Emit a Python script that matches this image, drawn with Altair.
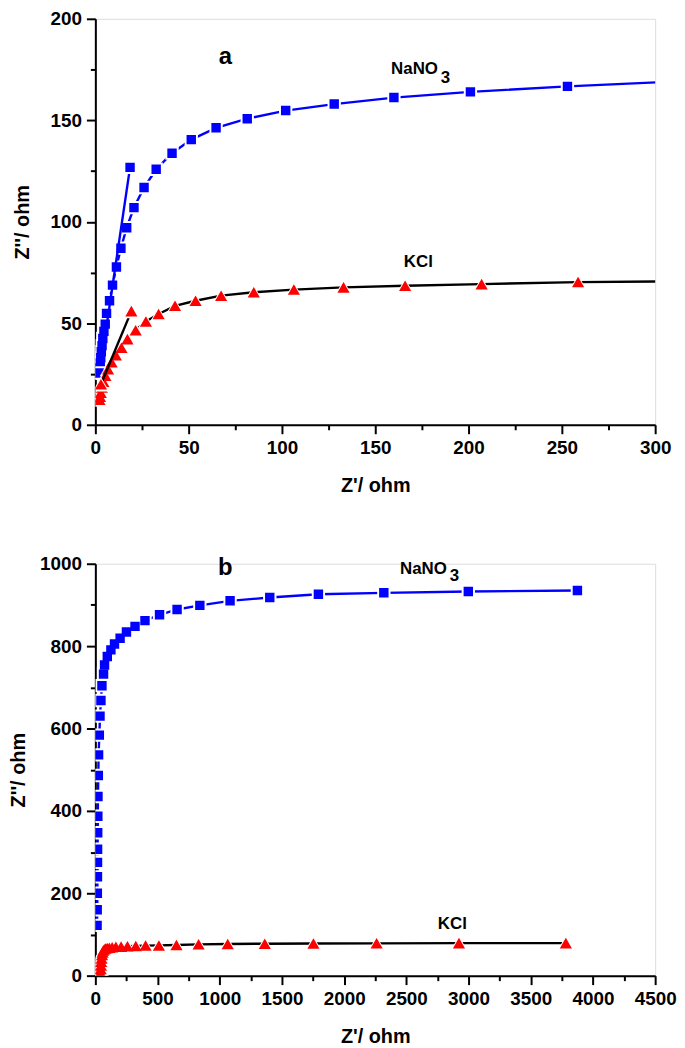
import altair as alt
import pandas as pd

# ---------------- Panel a ----------------
a_nano3_x = [315, 253, 201, 160, 128, 102, 81.4, 64.7, 51.4, 41.1, 32.6, 26.1, 20.7, 16.8, 13.7, 11.3,
             9.2, 7.6, 6.0, 5.3, 4.6, 4.0, 3.6, 3.2, 2.9, 2.6, 2.4, 2.3]
a_nano3_y = [169.3, 166.7, 164.0, 161.2, 158.0, 154.8, 150.8, 146.3, 140.5, 133.8, 125.9, 116.9, 107.0, 97.1,
             87.0, 77.7, 68.8, 61.1, 54.9, 49.6, 46.0, 42.5, 39.0, 36.0, 33.0, 30.5, 28.0, 25.5]
a_nano3_fit_x = [2.3, 18.6]
a_nano3_fit_y = [25.5, 126.8]

a_kcl_x = [325, 258.7, 207, 166, 133, 106.4, 84.9, 67.4, 53.7, 42.7, 33.9, 27.1, 21.6, 17.2, 14.0, 11.0,
           8.7, 6.8, 5.4, 4.3, 3.5, 2.9, 2.5, 2.2]
a_kcl_y = [70.8, 70.3, 69.3, 68.5, 67.7, 66.6, 65.3, 63.6, 61.1, 58.6, 54.6, 50.9, 46.6, 42.2, 38.0, 34.3,
           30.8, 27.4, 24.2, 21.2, 18.4, 15.8, 13.8, 12.4]
a_kcl_fit_x = [3.0, 19.3]
a_kcl_fit_y = [20.0, 56.0]

a_x_major = list(range(0, 301, 50))
a_x_minor = list(range(25, 300, 50))
a_y_major = list(range(0, 201, 50))
a_y_minor = list(range(25, 200, 50))

a_letter = ["a"]
a_letter_x = [69.7]
a_letter_y = [181.0]
a_lbl_text = ["NaNO", "3", "KCl"]
a_lbl_x = [158.5, 185.1, 165.3]
a_lbl_y = [175.5, 171.0, 80.0]

# ---------------- Panel b ----------------
b_nano3_x = [3875, 2998, 2319, 1793, 1402, 1083, 840, 657, 516, 399, 319, 250, 199, 154, 125, 96, 74, 66,
             53, 45, 37.5, 32, 26, 24, 21, 20, 19, 18, 17.5, 17, 16, 15, 14]
b_nano3_y = [935, 932.5, 929.4, 926, 918, 910, 899, 889, 876, 862, 848, 834.5, 819, 805, 791, 775, 754, 732,
             704, 668, 630, 584, 536, 486, 435, 387, 347, 307, 275, 240, 200, 160, 122]

b_kcl_x = [3782, 2923, 2261, 1753, 1362, 1064, 830, 652, 511, 404, 325, 258, 207, 165, 135, 112, 95, 82,
           72, 64, 58, 54, 50, 47, 45, 43, 41, 40]
b_kcl_y = [79, 79, 78.5, 78, 77.5, 77, 76, 74.5, 73.5, 73, 72, 71.5, 70.5, 70, 69, 68, 67, 66, 64, 61,
           56, 50, 42, 34, 25, 16, 8, 2]

b_x_major = list(range(0, 4501, 500))
b_x_minor = list(range(250, 4500, 500))
b_y_major = list(range(0, 1001, 200))
b_y_minor = list(range(100, 1000, 200))

b_letter = ["b"]
b_letter_x = [1045]
b_letter_y = [990]
b_lbl_text = ["NaNO", "3", "KCl"]
b_lbl_x = [2449, 2848, 2753]
b_lbl_y = [988, 969, 126.5]

FONT = "Liberation Sans"
BLUE = "#0000ff"
RED = "#ff0000"


def df(xs, ys):
    return pd.DataFrame({"x": xs, "y": ys, "i": list(range(len(xs)))})


def major_axis(title, values, orient, title_pad):
    return alt.Axis(
        title=title, values=values, format="d", orient=orient,
        tickSize=9, grid=False, domainColor="black", domainWidth=2, tickColor="black", tickWidth=2,
        labelFont=FONT, labelFontSize=19, labelFontWeight="bold", labelColor="black",
        titleFont=FONT, titleFontSize=20, titleFontWeight="bold", titleColor="black",
        labelPadding=5, titlePadding=title_pad, labelFlush=False, labelOverlap=False,
    )


def minor_axis(values, orient):
    return alt.Axis(
        title=None, values=values, orient=orient, labels=False, domain=False,
        tickSize=5, grid=False, tickColor="black", tickWidth=2,
    )


def panel(series, letter, lbls, xdom, ydom, xticks, yticks, xpad, ypad, w, h):
    xs_ = alt.Scale(domain=xdom, nice=False, zero=False)
    ys_ = alt.Scale(domain=ydom, nice=False, zero=False)
    X = alt.X("x:Q", scale=xs_, axis=major_axis("Z'/ ohm", xticks[0], "bottom", xpad))
    Y = alt.Y("y:Q", scale=ys_, axis=major_axis("Z''/ ohm", yticks[0], "left", ypad))
    layers = []
    for xs, ys, lcolor, shape, mcolor, msize, halo in series:
        base = alt.Chart(df(xs, ys))
        layers.append(base.mark_line(color=lcolor, strokeWidth=2.4, clip=True).encode(
            x=X, y=Y, order="i:Q"))
        layers.append(base.mark_point(shape=shape, filled=True, size=halo, fill="white", strokeWidth=0,
                                      opacity=1, clip=True).encode(x=X, y=Y))
        layers.append(base.mark_point(shape=shape, filled=True, size=msize, fill=mcolor, strokeWidth=0,
                                      opacity=1, clip=True).encode(x=X, y=Y))
    lt, lx, ly = letter
    layers.append(alt.Chart(pd.DataFrame({"x": lx, "y": ly, "t": lt})).mark_text(
        font=FONT, fontSize=24, fontWeight="bold", color="black", align="center", baseline="middle"
    ).encode(x=X, y=Y, text="t:N"))
    tt, tx, ty = lbls
    layers.append(alt.Chart(pd.DataFrame({"x": tx, "y": ty, "t": tt})).mark_text(
        font=FONT, fontSize=17, fontWeight="bold", color="black", align="left", baseline="middle"
    ).encode(x=X, y=Y, text="t:N"))
    main = alt.layer(*layers)
    first = series[0]
    minor = alt.Chart(df(first[0], first[1])).mark_point(opacity=0, clip=True).encode(
        x=alt.X("x:Q", scale=xs_, axis=minor_axis(xticks[1], "bottom")),
        y=alt.Y("y:Q", scale=ys_, axis=minor_axis(yticks[1], "left")),
    )
    return alt.layer(main, minor).resolve_axis(x="independent", y="independent").properties(
        width=w, height=h)


top = panel(
    [
        (a_nano3_x, a_nano3_y, BLUE, "square", BLUE, 90, 180),
        (a_nano3_fit_x, a_nano3_fit_y, BLUE, "square", BLUE, 90, 180),
        (a_kcl_x, a_kcl_y, "black", "triangle-up", RED, 150, 280),
        (a_kcl_fit_x, a_kcl_fit_y, "black", "triangle-up", RED, 150, 280),
    ],
    (a_letter, a_letter_x, a_letter_y),
    (a_lbl_text, a_lbl_x, a_lbl_y),
    [0, 300], [0, 200],
    (a_x_major, a_x_minor), (a_y_major, a_y_minor),
    18, 18,
    564, 409,
)

bottom = panel(
    [
        (b_nano3_x, b_nano3_y, BLUE, "square", BLUE, 90, 180),
        (b_kcl_x, b_kcl_y, "black", "triangle-up", RED, 150, 280),
    ],
    (b_letter, b_letter_x, b_letter_y),
    (b_lbl_text, b_lbl_x, b_lbl_y),
    [0, 4500], [0, 1000],
    (b_x_major, b_x_minor), (b_y_major, b_y_minor),
    18, 11,
    564, 415,
)

chart = alt.vconcat(top, bottom, spacing=58).properties(
    padding={"left": 0, "top": -3, "right": 0, "bottom": 0}
).configure_view(stroke=None).configure(background="white")

chart.save("out.html", embed_options={"renderer": "svg", "actions": False})
